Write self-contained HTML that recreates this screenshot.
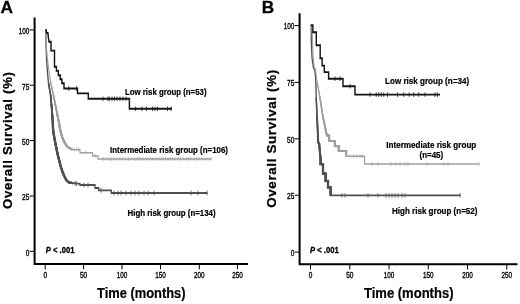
<!DOCTYPE html>
<html lang="en"><head><meta charset="utf-8"><title>Overall survival by risk group</title>
<style>
html,body{margin:0;padding:0;background:#fff;}
body{width:520px;height:304px;overflow:hidden;}
svg{display:block;filter:blur(0.35px);font-family:"Liberation Sans",Arial,sans-serif;fill:#000;}
</style></head><body>
<svg width="520" height="304" viewBox="0 0 520 304">
<rect width="520" height="304" fill="#fff"/>
<path d="M34.6,17.5V264H248" fill="none" stroke="#000" stroke-width="2" stroke-linejoin="miter" stroke-linecap="butt"/><path d="M29.6,29.9H34.6" stroke="#000" stroke-width="1"/><text x="29.3" y="34.2" text-anchor="end" font-size="8.8" stroke="#000" stroke-width="0.35" textLength="10.6" lengthAdjust="spacingAndGlyphs">100</text><path d="M29.6,85.2H34.6" stroke="#000" stroke-width="1"/><text x="29.3" y="89.5" text-anchor="end" font-size="8.8" stroke="#000" stroke-width="0.35" textLength="7.3" lengthAdjust="spacingAndGlyphs">75</text><path d="M29.6,140.6H34.6" stroke="#000" stroke-width="1"/><text x="29.3" y="144.9" text-anchor="end" font-size="8.8" stroke="#000" stroke-width="0.35" textLength="7.3" lengthAdjust="spacingAndGlyphs">50</text><path d="M29.6,196.1H34.6" stroke="#000" stroke-width="1"/><text x="29.3" y="200.4" text-anchor="end" font-size="8.8" stroke="#000" stroke-width="0.35" textLength="7.3" lengthAdjust="spacingAndGlyphs">25</text><path d="M29.6,251.3H34.6" stroke="#000" stroke-width="1"/><text x="29.3" y="255.6" text-anchor="end" font-size="8.8" stroke="#000" stroke-width="0.35" textLength="3.6" lengthAdjust="spacingAndGlyphs">0</text><path d="M45.2,264V269.3" stroke="#000" stroke-width="1"/><text x="45.2" y="277.7" text-anchor="middle" font-size="8.5" stroke="#000" stroke-width="0.35" textLength="3.6" lengthAdjust="spacingAndGlyphs">0</text><path d="M83.6,264V269.3" stroke="#000" stroke-width="1"/><text x="83.6" y="277.7" text-anchor="middle" font-size="8.5" stroke="#000" stroke-width="0.35" textLength="7.3" lengthAdjust="spacingAndGlyphs">50</text><path d="M122,264V269.3" stroke="#000" stroke-width="1"/><text x="122" y="277.7" text-anchor="middle" font-size="8.5" stroke="#000" stroke-width="0.35" textLength="10.6" lengthAdjust="spacingAndGlyphs">100</text><path d="M160.5,264V269.3" stroke="#000" stroke-width="1"/><text x="160.5" y="277.7" text-anchor="middle" font-size="8.5" stroke="#000" stroke-width="0.35" textLength="10.6" lengthAdjust="spacingAndGlyphs">150</text><path d="M199.3,264V269.3" stroke="#000" stroke-width="1"/><text x="199.3" y="277.7" text-anchor="middle" font-size="8.5" stroke="#000" stroke-width="0.35" textLength="10.6" lengthAdjust="spacingAndGlyphs">200</text><path d="M237.5,264V269.3" stroke="#000" stroke-width="1"/><text x="237.5" y="277.7" text-anchor="middle" font-size="8.5" stroke="#000" stroke-width="0.35" textLength="10.6" lengthAdjust="spacingAndGlyphs">250</text>
<path d="M299.6,13.2V264.2H517.5" fill="none" stroke="#000" stroke-width="2" stroke-linejoin="miter" stroke-linecap="butt"/><path d="M294.6,25.6H299.6" stroke="#000" stroke-width="1"/><text x="294.3" y="29.4" text-anchor="end" font-size="8.8" stroke="#000" stroke-width="0.35" textLength="10.6" lengthAdjust="spacingAndGlyphs">100</text><path d="M294.6,82.4H299.6" stroke="#000" stroke-width="1"/><text x="294.3" y="86.2" text-anchor="end" font-size="8.8" stroke="#000" stroke-width="0.35" textLength="7.3" lengthAdjust="spacingAndGlyphs">75</text><path d="M294.6,138.8H299.6" stroke="#000" stroke-width="1"/><text x="294.3" y="142.6" text-anchor="end" font-size="8.8" stroke="#000" stroke-width="0.35" textLength="7.3" lengthAdjust="spacingAndGlyphs">50</text><path d="M294.6,195.2H299.6" stroke="#000" stroke-width="1"/><text x="294.3" y="199.0" text-anchor="end" font-size="8.8" stroke="#000" stroke-width="0.35" textLength="7.3" lengthAdjust="spacingAndGlyphs">25</text><path d="M294.6,252.1H299.6" stroke="#000" stroke-width="1"/><text x="294.3" y="255.9" text-anchor="end" font-size="8.8" stroke="#000" stroke-width="0.35" textLength="3.6" lengthAdjust="spacingAndGlyphs">0</text><path d="M310.5,264.2V269.5" stroke="#000" stroke-width="1"/><text x="310.5" y="277.9" text-anchor="middle" font-size="8.5" stroke="#000" stroke-width="0.35" textLength="3.6" lengthAdjust="spacingAndGlyphs">0</text><path d="M349.8,264.2V269.5" stroke="#000" stroke-width="1"/><text x="349.8" y="277.9" text-anchor="middle" font-size="8.5" stroke="#000" stroke-width="0.35" textLength="7.3" lengthAdjust="spacingAndGlyphs">50</text><path d="M389,264.2V269.5" stroke="#000" stroke-width="1"/><text x="389" y="277.9" text-anchor="middle" font-size="8.5" stroke="#000" stroke-width="0.35" textLength="10.6" lengthAdjust="spacingAndGlyphs">100</text><path d="M428.3,264.2V269.5" stroke="#000" stroke-width="1"/><text x="428.3" y="277.9" text-anchor="middle" font-size="8.5" stroke="#000" stroke-width="0.35" textLength="10.6" lengthAdjust="spacingAndGlyphs">150</text><path d="M467.5,264.2V269.5" stroke="#000" stroke-width="1"/><text x="467.5" y="277.9" text-anchor="middle" font-size="8.5" stroke="#000" stroke-width="0.35" textLength="10.6" lengthAdjust="spacingAndGlyphs">200</text><path d="M506.8,264.2V269.5" stroke="#000" stroke-width="1"/><text x="506.8" y="277.9" text-anchor="middle" font-size="8.5" stroke="#000" stroke-width="0.35" textLength="10.6" lengthAdjust="spacingAndGlyphs">250</text>
<path transform="scale(0.75,1)" d="M61.20,29.30 L61.33,45.00 L61.87,55.00 L62.53,64.00 L63.47,74.00 L64.67,83.00 L67.47,95.00 L68.53,104.00 L69.60,114.00 L70.40,123.00 L70.80,130.00 L72.27,137.00 L74.27,145.00 L77.07,155.00 L79.47,162.00 L80.80,166.00 L83.07,171.30 L85.33,175.50 L87.47,178.80 L89.33,181.00 L92.00,182.40 L97.33,183.20 L106.67,183.80 L106.67,185.00 L126.67,185.00 L126.67,188.00 L131.60,188.00 L131.60,190.30 L148.40,190.30 L148.40,193.00 L276.67,193.00" fill="none" stroke="#505050" stroke-width="1.8" stroke-linejoin="miter"/>
<path d="M75.0,181.0V185.8" stroke="#505050" stroke-width="0.8"/><path d="M76.5,181.2V186.0" stroke="#505050" stroke-width="0.8"/><path d="M84.0,182.6V187.4" stroke="#505050" stroke-width="0.8"/><path d="M88.0,182.6V187.4" stroke="#505050" stroke-width="0.8"/><path d="M101.0,187.9V192.7" stroke="#505050" stroke-width="0.8"/><path d="M114.0,190.6V195.4" stroke="#505050" stroke-width="0.8"/><path d="M118.0,190.6V195.4" stroke="#505050" stroke-width="0.8"/><path d="M121.0,190.6V195.4" stroke="#505050" stroke-width="0.8"/><path d="M126.0,190.6V195.4" stroke="#505050" stroke-width="0.8"/><path d="M131.0,190.6V195.4" stroke="#505050" stroke-width="0.8"/><path d="M135.0,190.6V195.4" stroke="#505050" stroke-width="0.8"/><path d="M139.0,190.6V195.4" stroke="#505050" stroke-width="0.8"/><path d="M144.0,190.6V195.4" stroke="#505050" stroke-width="0.8"/><path d="M148.0,190.6V195.4" stroke="#505050" stroke-width="0.8"/><path d="M154.0,190.6V195.4" stroke="#505050" stroke-width="0.8"/><path d="M191.0,190.6V195.4" stroke="#505050" stroke-width="0.8"/><path d="M198.0,190.6V195.4" stroke="#505050" stroke-width="0.8"/><path d="M207.0,190.6V195.4" stroke="#505050" stroke-width="0.8"/>
<path transform="scale(1,1)" d="M48.50,83.00 L50.60,95.00 L51.40,104.00 L52.20,114.00 L52.80,123.00 L53.10,130.00 L54.20,137.00 L55.70,145.00 L57.80,155.00 L59.60,162.00 L60.60,166.00 L62.30,171.30 L64.00,175.50 L65.60,178.80 L67.00,181.00 L69.00,182.40 L73.00,183.20" fill="none" stroke="#505050" stroke-width="1.5" stroke-linejoin="miter"/>
<path transform="scale(1,1)" d="M50.60,95.00 L51.40,104.00 L52.20,114.00 L52.80,123.00 L53.10,130.00 L54.20,137.00 L55.70,145.00 L57.80,155.00 L59.60,162.00 L60.60,166.00 L62.30,171.30 L64.00,175.50 L65.60,178.80 L67.00,181.00 L69.00,182.40 L73.00,183.20" fill="none" stroke="#505050" stroke-width="1.75" stroke-linejoin="miter"/>
<path transform="scale(1,1)" d="M51.40,104.00 L52.20,114.00 L52.80,123.00 L53.10,130.00 L54.20,137.00 L55.70,145.00 L57.80,155.00 L59.60,162.00 L60.60,166.00 L62.30,171.30 L64.00,175.50 L65.60,178.80 L67.00,181.00 L69.00,182.40 L73.00,183.20" fill="none" stroke="#505050" stroke-width="1.95" stroke-linejoin="miter"/>
<path transform="scale(1,1)" d="M52.20,114.00 L52.80,123.00 L53.10,130.00 L54.20,137.00 L55.70,145.00 L57.80,155.00 L59.60,162.00 L60.60,166.00 L62.30,171.30 L64.00,175.50 L65.60,178.80 L67.00,181.00 L69.00,182.40 L73.00,183.20" fill="none" stroke="#505050" stroke-width="2.15" stroke-linejoin="miter"/>
<path transform="scale(1,1)" d="M52.80,123.00 L53.10,130.00 L54.20,137.00 L55.70,145.00 L57.80,155.00 L59.60,162.00 L60.60,166.00 L62.30,171.30 L64.00,175.50 L65.60,178.80 L67.00,181.00 L69.00,182.40 L73.00,183.20" fill="none" stroke="#505050" stroke-width="2.3" stroke-linejoin="miter"/>
<path transform="scale(0.75,1)" d="M61.20,29.30 L61.73,45.00 L62.67,55.00 L64.00,64.00 L65.73,74.00 L67.73,83.00 L71.20,95.00 L73.60,104.00 L76.27,114.00 L78.67,123.00 L80.27,130.00 L83.07,137.50 L86.00,142.50 L89.73,146.50 L92.67,148.00 L96.00,149.50 L106.67,149.80 L106.67,152.70 L123.33,152.70 L123.33,155.90 L130.67,155.90 L130.67,159.00 L282.13,159.00" fill="none" stroke="#9e9e9e" stroke-width="1.5" stroke-linejoin="miter"/>
<path d="M74.0,147.4V151.4" stroke="#9e9e9e" stroke-width="0.6"/><path d="M76.5,147.4V151.4" stroke="#9e9e9e" stroke-width="0.6"/><path d="M78.5,147.4V151.4" stroke="#9e9e9e" stroke-width="0.6"/><path d="M86.0,150.5V154.5" stroke="#9e9e9e" stroke-width="0.6"/><path d="M95.0,153.6V157.6" stroke="#9e9e9e" stroke-width="0.6"/><path d="M103.0,157.0V161.0" stroke="#9e9e9e" stroke-width="0.6"/><path d="M106.0,157.0V161.0" stroke="#9e9e9e" stroke-width="0.6"/><path d="M109.0,157.0V161.0" stroke="#9e9e9e" stroke-width="0.6"/><path d="M111.5,157.0V161.0" stroke="#9e9e9e" stroke-width="0.6"/><path d="M114.0,157.0V161.0" stroke="#9e9e9e" stroke-width="0.6"/><path d="M117.0,157.0V161.0" stroke="#9e9e9e" stroke-width="0.6"/><path d="M120.0,157.0V161.0" stroke="#9e9e9e" stroke-width="0.6"/><path d="M123.0,157.0V161.0" stroke="#9e9e9e" stroke-width="0.6"/><path d="M126.0,157.0V161.0" stroke="#9e9e9e" stroke-width="0.6"/><path d="M128.5,157.0V161.0" stroke="#9e9e9e" stroke-width="0.6"/><path d="M131.0,157.0V161.0" stroke="#9e9e9e" stroke-width="0.6"/><path d="M134.0,157.0V161.0" stroke="#9e9e9e" stroke-width="0.6"/><path d="M136.0,157.0V161.0" stroke="#9e9e9e" stroke-width="0.6"/><path d="M138.0,157.0V161.0" stroke="#9e9e9e" stroke-width="0.6"/><path d="M140.0,157.0V161.0" stroke="#9e9e9e" stroke-width="0.6"/><path d="M143.0,157.0V161.0" stroke="#9e9e9e" stroke-width="0.6"/><path d="M146.0,157.0V161.0" stroke="#9e9e9e" stroke-width="0.6"/><path d="M148.0,157.0V161.0" stroke="#9e9e9e" stroke-width="0.6"/><path d="M150.5,157.0V161.0" stroke="#9e9e9e" stroke-width="0.6"/><path d="M153.0,157.0V161.0" stroke="#9e9e9e" stroke-width="0.6"/><path d="M156.0,157.0V161.0" stroke="#9e9e9e" stroke-width="0.6"/><path d="M159.0,157.0V161.0" stroke="#9e9e9e" stroke-width="0.6"/><path d="M161.0,157.0V161.0" stroke="#9e9e9e" stroke-width="0.6"/><path d="M163.0,157.0V161.0" stroke="#9e9e9e" stroke-width="0.6"/><path d="M165.5,157.0V161.0" stroke="#9e9e9e" stroke-width="0.6"/><path d="M168.0,157.0V161.0" stroke="#9e9e9e" stroke-width="0.6"/><path d="M170.0,157.0V161.0" stroke="#9e9e9e" stroke-width="0.6"/><path d="M172.5,157.0V161.0" stroke="#9e9e9e" stroke-width="0.6"/><path d="M175.0,157.0V161.0" stroke="#9e9e9e" stroke-width="0.6"/><path d="M178.0,157.0V161.0" stroke="#9e9e9e" stroke-width="0.6"/><path d="M180.5,157.0V161.0" stroke="#9e9e9e" stroke-width="0.6"/><path d="M183.0,157.0V161.0" stroke="#9e9e9e" stroke-width="0.6"/><path d="M186.0,157.0V161.0" stroke="#9e9e9e" stroke-width="0.6"/><path d="M188.5,157.0V161.0" stroke="#9e9e9e" stroke-width="0.6"/><path d="M191.0,157.0V161.0" stroke="#9e9e9e" stroke-width="0.6"/><path d="M194.0,157.0V161.0" stroke="#9e9e9e" stroke-width="0.6"/><path d="M196.5,157.0V161.0" stroke="#9e9e9e" stroke-width="0.6"/><path d="M199.0,157.0V161.0" stroke="#9e9e9e" stroke-width="0.6"/><path d="M202.0,157.0V161.0" stroke="#9e9e9e" stroke-width="0.6"/><path d="M205.0,157.0V161.0" stroke="#9e9e9e" stroke-width="0.6"/><path d="M208.0,157.0V161.0" stroke="#9e9e9e" stroke-width="0.6"/><path d="M211.0,157.0V161.0" stroke="#9e9e9e" stroke-width="0.6"/>
<path transform="scale(1,1)" d="M50.80,83.00 L53.40,95.00 L55.20,104.00 L57.20,114.00 L59.00,123.00 L60.20,130.00 L62.30,137.50 L64.50,142.50 L67.30,146.50 L69.50,148.00 L72.00,149.50" fill="none" stroke="#9e9e9e" stroke-width="1.35" stroke-linejoin="miter"/>
<path transform="scale(1,1)" d="M53.40,95.00 L55.20,104.00 L57.20,114.00 L59.00,123.00 L60.20,130.00 L62.30,137.50 L64.50,142.50 L67.30,146.50 L69.50,148.00 L72.00,149.50" fill="none" stroke="#9e9e9e" stroke-width="1.55" stroke-linejoin="miter"/>
<path transform="scale(1,1)" d="M55.20,104.00 L57.20,114.00 L59.00,123.00 L60.20,130.00 L62.30,137.50 L64.50,142.50 L67.30,146.50 L69.50,148.00 L72.00,149.50" fill="none" stroke="#9e9e9e" stroke-width="1.75" stroke-linejoin="miter"/>
<path transform="scale(1,1)" d="M57.20,114.00 L59.00,123.00 L60.20,130.00 L62.30,137.50 L64.50,142.50 L67.30,146.50 L69.50,148.00 L72.00,149.50" fill="none" stroke="#9e9e9e" stroke-width="1.95" stroke-linejoin="miter"/>
<path transform="scale(1,1)" d="M59.00,123.00 L60.20,130.00 L62.30,137.50 L64.50,142.50 L67.30,146.50 L69.50,148.00 L72.00,149.50" fill="none" stroke="#9e9e9e" stroke-width="2.1" stroke-linejoin="miter"/>
<path transform="scale(0.75,1)" d="M61.20,29.30 L62.27,33.00 L63.87,33.00 L64.53,37.50 L65.33,41.80 L68.00,41.80 L68.00,50.60 L72.67,50.60 L72.67,66.80 L75.20,66.80 L75.20,70.90 L77.73,70.90 L77.73,75.20 L80.27,75.20 L80.27,79.30 L82.53,79.30 L82.53,83.30 L85.33,83.30 L85.33,88.50 L103.33,88.50 L103.33,93.40 L117.73,93.40 L117.73,98.80 L172.53,98.80 L172.53,108.80 L229.33,108.80" fill="none" stroke="#141414" stroke-width="1.9" stroke-linejoin="miter"/>
<path d="M68.8,86.2V90.8" stroke="#141414" stroke-width="0.75"/><path d="M76.6,86.2V90.8" stroke="#141414" stroke-width="0.75"/><path d="M103.0,96.5V101.1" stroke="#141414" stroke-width="0.75"/><path d="M108.0,96.5V101.1" stroke="#141414" stroke-width="0.75"/><path d="M109.3,96.5V101.1" stroke="#141414" stroke-width="0.75"/><path d="M112.0,96.5V101.1" stroke="#141414" stroke-width="0.75"/><path d="M114.5,96.5V101.1" stroke="#141414" stroke-width="0.75"/><path d="M117.0,96.5V101.1" stroke="#141414" stroke-width="0.75"/><path d="M120.0,96.5V101.1" stroke="#141414" stroke-width="0.75"/><path d="M123.0,96.5V101.1" stroke="#141414" stroke-width="0.75"/><path d="M126.0,96.5V101.1" stroke="#141414" stroke-width="0.75"/><path d="M135.6,106.5V111.1" stroke="#141414" stroke-width="0.75"/><path d="M142.0,106.5V111.1" stroke="#141414" stroke-width="0.75"/><path d="M146.5,106.5V111.1" stroke="#141414" stroke-width="0.75"/><path d="M152.5,106.5V111.1" stroke="#141414" stroke-width="0.75"/><path d="M155.0,106.5V111.1" stroke="#141414" stroke-width="0.75"/><path d="M157.5,106.5V111.1" stroke="#141414" stroke-width="0.75"/><path d="M167.5,106.5V111.1" stroke="#141414" stroke-width="0.75"/><path d="M171.0,106.5V111.1" stroke="#141414" stroke-width="0.75"/>
<path transform="scale(0.75,1)" d="M414.93,25.30 L415.07,41.00 L415.87,55.00 L416.40,60.00 L418.00,68.00 L419.60,69.50 L421.07,79.00 L421.60,98.00 L422.80,117.00 L423.87,136.00 L424.27,142.50 L425.60,143.50 L426.80,155.00 L427.47,158.00 L427.47,164.20 L430.67,164.20 L430.67,173.60 L434.13,173.60 L434.13,181.00 L437.33,181.00 L437.33,187.40 L440.80,187.40 L440.80,195.40 L614.13,195.40" fill="none" stroke="#505050" stroke-width="1.8" stroke-linejoin="miter"/>
<path d="M341.9,193.1V197.7" stroke="#505050" stroke-width="0.75"/><path d="M345.0,193.1V197.7" stroke="#505050" stroke-width="0.75"/><path d="M368.0,193.1V197.7" stroke="#505050" stroke-width="0.75"/><path d="M378.0,193.1V197.7" stroke="#505050" stroke-width="0.75"/><path d="M386.0,193.1V197.7" stroke="#505050" stroke-width="0.75"/><path d="M389.0,193.1V197.7" stroke="#505050" stroke-width="0.75"/><path d="M392.0,193.1V197.7" stroke="#505050" stroke-width="0.75"/><path d="M395.0,193.1V197.7" stroke="#505050" stroke-width="0.75"/><path d="M398.0,193.1V197.7" stroke="#505050" stroke-width="0.75"/><path d="M402.0,193.1V197.7" stroke="#505050" stroke-width="0.75"/><path d="M405.0,193.1V197.7" stroke="#505050" stroke-width="0.75"/><path d="M460.0,193.1V197.7" stroke="#505050" stroke-width="0.75"/>
<path transform="scale(1,1)" d="M316.20,98.00 L317.10,117.00 L317.90,136.00 L318.20,142.50 L319.20,143.50 L320.10,155.00 L320.60,158.00 L320.60,164.20 L323.00,164.20 L323.00,173.60 L325.60,173.60 L325.60,181.00 L328.00,181.00 L328.00,187.40 L330.60,187.40 L330.60,195.40" fill="none" stroke="#505050" stroke-width="1.5" stroke-linejoin="miter"/>
<path transform="scale(1,1)" d="M317.10,117.00 L317.90,136.00 L318.20,142.50 L319.20,143.50 L320.10,155.00 L320.60,158.00 L320.60,164.20 L323.00,164.20 L323.00,173.60 L325.60,173.60 L325.60,181.00 L328.00,181.00 L328.00,187.40 L330.60,187.40 L330.60,195.40" fill="none" stroke="#505050" stroke-width="1.8" stroke-linejoin="miter"/>
<path transform="scale(1,1)" d="M317.90,136.00 L318.20,142.50 L319.20,143.50 L320.10,155.00 L320.60,158.00 L320.60,164.20 L323.00,164.20 L323.00,173.60 L325.60,173.60 L325.60,181.00 L328.00,181.00 L328.00,187.40 L330.60,187.40 L330.60,195.40" fill="none" stroke="#505050" stroke-width="2.1" stroke-linejoin="miter"/>
<path transform="scale(1,1)" d="M320.10,155.00 L320.60,158.00 L320.60,164.20 L323.00,164.20 L323.00,173.60 L325.60,173.60 L325.60,181.00 L328.00,181.00 L328.00,187.40 L330.60,187.40 L330.60,195.40" fill="none" stroke="#505050" stroke-width="2.3" stroke-linejoin="miter"/>
<path transform="scale(0.75,1)" d="M415.87,25.30 L416.67,41.00 L417.33,55.00 L417.87,60.00 L419.20,68.00 L420.80,69.50 L422.13,79.00 L423.60,85.00 L426.67,98.00 L430.67,117.00 L434.00,129.00 L435.87,135.50 L438.93,135.50 L438.93,141.00 L446.40,141.00 L446.40,146.20 L451.60,146.20 L451.60,151.00 L461.60,151.00 L461.60,156.20 L486.27,156.20 L486.27,163.90 L639.20,163.90" fill="none" stroke="#9e9e9e" stroke-width="1.5" stroke-linejoin="miter"/>
<path d="M350.0,154.2V158.2" stroke="#9e9e9e" stroke-width="0.6"/><path d="M354.0,154.2V158.2" stroke="#9e9e9e" stroke-width="0.6"/><path d="M357.0,154.2V158.2" stroke="#9e9e9e" stroke-width="0.6"/><path d="M360.0,154.2V158.2" stroke="#9e9e9e" stroke-width="0.6"/><path d="M362.0,154.2V158.2" stroke="#9e9e9e" stroke-width="0.6"/><path d="M372.0,161.9V165.9" stroke="#9e9e9e" stroke-width="0.6"/><path d="M378.0,161.9V165.9" stroke="#9e9e9e" stroke-width="0.6"/><path d="M391.0,161.9V165.9" stroke="#9e9e9e" stroke-width="0.6"/><path d="M396.0,161.9V165.9" stroke="#9e9e9e" stroke-width="0.6"/><path d="M400.0,161.9V165.9" stroke="#9e9e9e" stroke-width="0.6"/><path d="M405.0,161.9V165.9" stroke="#9e9e9e" stroke-width="0.6"/><path d="M408.0,161.9V165.9" stroke="#9e9e9e" stroke-width="0.6"/><path d="M427.0,161.9V165.9" stroke="#9e9e9e" stroke-width="0.6"/><path d="M444.0,161.9V165.9" stroke="#9e9e9e" stroke-width="0.6"/><path d="M448.0,161.9V165.9" stroke="#9e9e9e" stroke-width="0.6"/><path d="M479.0,161.9V165.9" stroke="#9e9e9e" stroke-width="0.6"/>
<path transform="scale(1,1)" d="M317.70,85.00 L320.00,98.00 L323.00,117.00 L325.50,129.00 L326.90,135.50 L329.20,135.50 L329.20,141.00 L334.80,141.00 L334.80,146.20 L338.70,146.20 L338.70,151.00 L346.20,151.00 L346.20,156.20" fill="none" stroke="#9e9e9e" stroke-width="1.3" stroke-linejoin="miter"/>
<path transform="scale(1,1)" d="M320.00,98.00 L323.00,117.00 L325.50,129.00 L326.90,135.50 L329.20,135.50 L329.20,141.00 L334.80,141.00 L334.80,146.20 L338.70,146.20 L338.70,151.00 L346.20,151.00 L346.20,156.20" fill="none" stroke="#9e9e9e" stroke-width="1.55" stroke-linejoin="miter"/>
<path transform="scale(1,1)" d="M323.00,117.00 L325.50,129.00 L326.90,135.50 L329.20,135.50 L329.20,141.00 L334.80,141.00 L334.80,146.20 L338.70,146.20 L338.70,151.00 L346.20,151.00 L346.20,156.20" fill="none" stroke="#9e9e9e" stroke-width="1.8" stroke-linejoin="miter"/>
<path transform="scale(1,1)" d="M325.50,129.00 L326.90,135.50 L329.20,135.50 L329.20,141.00 L334.80,141.00 L334.80,146.20 L338.70,146.20 L338.70,151.00 L346.20,151.00 L346.20,156.20" fill="none" stroke="#9e9e9e" stroke-width="2.0" stroke-linejoin="miter"/>
<path transform="scale(0.75,1)" d="M414.27,25.30 L417.20,25.30 L417.20,32.30 L421.73,32.30 L421.73,45.20 L426.93,45.20 L426.93,58.20 L429.47,58.20 L429.47,65.60 L432.40,65.60 L432.40,72.10 L438.13,72.10 L438.13,78.70 L457.33,78.70 L457.33,86.20 L473.33,86.20 L473.33,94.60 L586.67,94.60" fill="none" stroke="#141414" stroke-width="1.9" stroke-linejoin="miter"/>
<path d="M335.0,76.4V81.0" stroke="#141414" stroke-width="0.75"/><path d="M340.0,76.4V81.0" stroke="#141414" stroke-width="0.75"/><path d="M350.0,83.9V88.5" stroke="#141414" stroke-width="0.75"/><path d="M370.0,92.3V96.9" stroke="#141414" stroke-width="0.75"/><path d="M376.2,92.3V96.9" stroke="#141414" stroke-width="0.75"/><path d="M378.7,92.3V96.9" stroke="#141414" stroke-width="0.75"/><path d="M381.2,92.3V96.9" stroke="#141414" stroke-width="0.75"/><path d="M383.7,92.3V96.9" stroke="#141414" stroke-width="0.75"/><path d="M387.5,92.3V96.9" stroke="#141414" stroke-width="0.75"/><path d="M397.5,92.3V96.9" stroke="#141414" stroke-width="0.75"/><path d="M403.7,92.3V96.9" stroke="#141414" stroke-width="0.75"/><path d="M409.2,92.3V96.9" stroke="#141414" stroke-width="0.75"/><path d="M413.7,92.3V96.9" stroke="#141414" stroke-width="0.75"/><path d="M418.7,92.3V96.9" stroke="#141414" stroke-width="0.75"/><path d="M425.0,92.3V96.9" stroke="#141414" stroke-width="0.75"/><path d="M435.0,92.3V96.9" stroke="#141414" stroke-width="0.75"/><path d="M437.5,92.3V96.9" stroke="#141414" stroke-width="0.75"/>
<text x="125" y="94.5" font-weight="bold" font-size="8.6" stroke="#000" stroke-width="0.2" textLength="81.5" lengthAdjust="spacingAndGlyphs">Low risk group (n=53)</text>
<text x="110" y="152.6" font-weight="bold" font-size="8.3" stroke="#000" stroke-width="0.2" textLength="118" lengthAdjust="spacingAndGlyphs">Intermediate risk group (n=106)</text>
<text x="127.6" y="216.4" font-weight="bold" font-size="8.6" stroke="#000" stroke-width="0.2" textLength="88" lengthAdjust="spacingAndGlyphs">High risk group (n=134)</text>
<text x="385.1" y="84.4" font-weight="bold" font-size="8.4" stroke="#000" stroke-width="0.2" textLength="84" lengthAdjust="spacingAndGlyphs">Low risk group (n=34)</text>
<text x="386.3" y="147.6" font-weight="bold" font-size="8.2" stroke="#000" stroke-width="0.2" textLength="90" lengthAdjust="spacingAndGlyphs">Intermediate risk group</text>
<text x="419.5" y="157.7" font-weight="bold" font-size="8.2" stroke="#000" stroke-width="0.2" textLength="23.7" lengthAdjust="spacingAndGlyphs">(n=45)</text>
<text x="392" y="213.8" font-weight="bold" font-size="8.6" stroke="#000" stroke-width="0.2" textLength="85.5" lengthAdjust="spacingAndGlyphs">High risk group (n=52)</text>
<text x="45.8" y="253.2" font-weight="bold" font-size="8.2" stroke="#000" stroke-width="0.3" textLength="28.6" lengthAdjust="spacingAndGlyphs"><tspan font-style="italic">P</tspan> &lt; .001</text>
<text x="310" y="253.2" font-weight="bold" font-size="8.2" stroke="#000" stroke-width="0.3" textLength="28.8" lengthAdjust="spacingAndGlyphs"><tspan font-style="italic">P</tspan> &lt; .001</text>
<text x="0.6" y="13.4" font-weight="bold" font-size="17.3" stroke="#000" stroke-width="0.3">A</text>
<text x="261.8" y="13.1" font-weight="bold" font-size="17.2" stroke="#000" stroke-width="0.3">B</text>
<text x="97" y="297.9" font-weight="bold" font-size="14" stroke="#000" stroke-width="0.2" textLength="88.5" lengthAdjust="spacingAndGlyphs">Time (months)</text>
<text x="364" y="297.9" font-weight="bold" font-size="14" stroke="#000" stroke-width="0.2" textLength="89.5" lengthAdjust="spacingAndGlyphs">Time (months)</text>
<text transform="translate(11.5,209) rotate(-90)" font-weight="bold" font-size="13.2" stroke="#000" stroke-width="0.25" textLength="137" lengthAdjust="spacing">Overall Survival (%)</text>
<text transform="translate(275.8,207.8) rotate(-90)" font-weight="bold" font-size="13.4" stroke="#000" stroke-width="0.25" textLength="138" lengthAdjust="spacing">Overall Survival (%)</text>
</svg>
</body></html>
